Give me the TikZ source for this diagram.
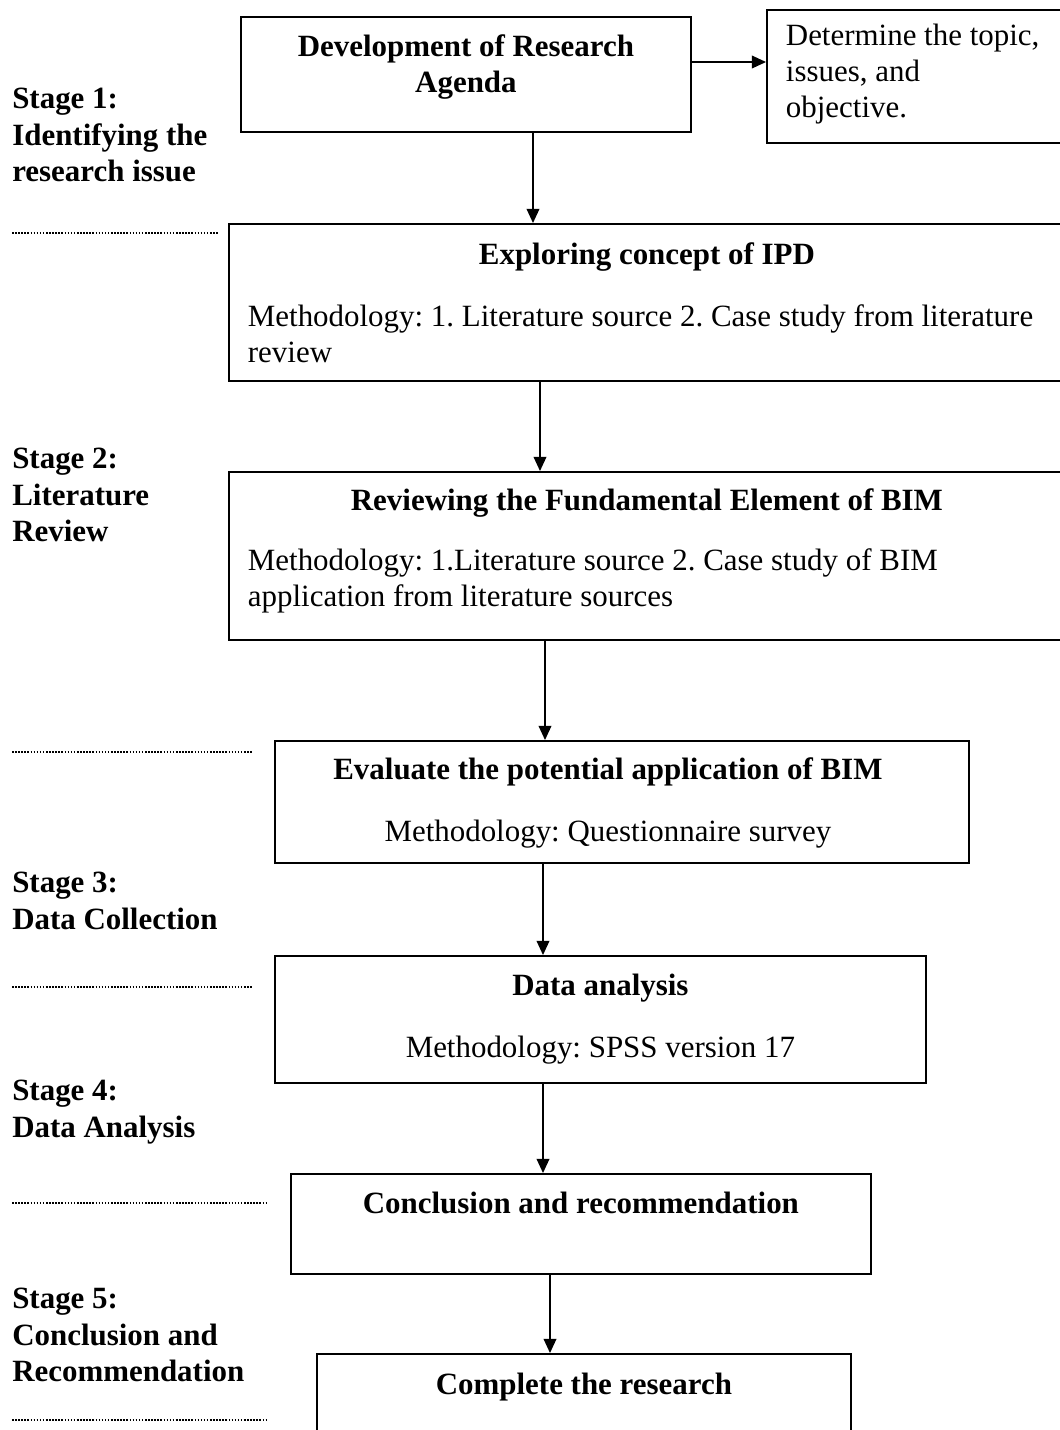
\documentclass[tikz,border=0pt]{standalone}
\usepackage{fontspec}
\setmainfont{Liberation Serif}
\usetikzlibrary{arrows.meta,positioning}

\newlength\pxu
\setlength\pxu{0.025cm}
% fixed-size text block: width, height, top padding, text
\newcommand{\boxtext}[4]{\parbox[c][#2\pxu][t]{#1\pxu}{\frenchspacing\vspace*{#3\pxu}#4}}

\tikzset{
  box/.style={draw, line width=1.3pt, inner xsep=0.475cm, inner ysep=0pt,
    anchor=north west, font=\fontsize{22}{25.5}\selectfont},
  stagelabel/.style={anchor=north west, inner sep=0pt, align=left,
    font=\fontsize{22}{26}\selectfont\bfseries},
  flow/.style={line width=1pt, -{Triangle[length=10pt,width=9pt]}},
  sep/.style={line width=1.3pt, dash pattern=on 1.1pt off 1.1pt}
}

\begin{document}
\begin{tikzpicture}[x=0.025cm, y=-0.025cm]
  \clip (0,0) rectangle (1060,1430);

  % boxes of the flow
  \node[box] (agenda) at (240,16)
    {\boxtext{412}{115}{18}{\centering\bfseries Development of Research\\Agenda}};
  \node[box] (topic) at (766,9)
    {\boxtext{260}{133}{14}{\raggedright Determine the topic,\\issues, and\\objective.}};
  \node[box] (ipd) at (228,223)
    {\boxtext{798}{157}{19}{{\centering\bfseries Exploring concept of IPD\par}
      \vspace{26\pxu}\raggedright Methodology: 1. Literature source 2. Case study from literature\\review}};
  \node[box] (bim) at (228,471)
    {\boxtext{798}{168}{17}{{\centering\bfseries Reviewing the Fundamental Element of BIM\par}
      \vspace{24\pxu}\raggedright Methodology: 1.Literature source 2. Case study of BIM\\application from literature sources}};
  \node[box] (survey) at (274,740)
    {\boxtext{656}{122}{17}{\centering\rightskip=28\pxu plus 1fil
      {\bfseries Evaluate the potential application of BIM\par}
      \vspace{26\pxu}Methodology: Questionnaire survey}};
  \node[box] (spss) at (274,955)
    {\boxtext{613}{127}{18}{\centering{\bfseries Data analysis\par}
      \vspace{26\pxu}Methodology: SPSS version 17}};
  \node[box] (concl) at (290,1173)
    {\boxtext{542}{100}{18}{\centering\bfseries Conclusion and recommendation}};
  \node[box] (done) at (316,1353)
    {\boxtext{496}{120}{19}{\centering\bfseries Complete the research}};

  % stage names on the left
  \node[stagelabel] (s1) at (12,88) {Stage 1:\\Identifying the\\research issue};
  \node[stagelabel] (s2) at (12,448) {Stage 2:\\Literature\\Review};
  \node[stagelabel] (s3) at (12,872) {Stage 3:\\Data Collection};
  \node[stagelabel] (s4) at (12,1080) {Stage 4:\\Data Analysis};
  \node[stagelabel] (s5) at (12,1288) {Stage 5:\\Conclusion and\\Recommendation};

  % dotted separators
  \draw[sep] (12,233) -- (218,233);
  \draw[sep] (12,752) -- (252,752);
  \draw[sep] (12,987) -- (252,987);
  \draw[sep] (12,1203) -- (268,1203);
  \draw[sep] (12,1420) -- (268,1420);

  % arrows
  \coordinate (c1) at (533,0);
  \coordinate (c2) at (540,0);
  \coordinate (c3) at (545,0);
  \coordinate (c4) at (543,0);
  \coordinate (c5) at (550,0);
  \draw[flow] (agenda.east |- 0,62) -- (topic.west |- 0,62);
  \draw[flow] (c1 |- agenda.south) -- (c1 |- ipd.north);
  \draw[flow] (c2 |- ipd.south) -- (c2 |- bim.north);
  \draw[flow] (c3 |- bim.south) -- (c3 |- survey.north);
  \draw[flow] (c4 |- survey.south) -- (c4 |- spss.north);
  \draw[flow] (c4 |- spss.south) -- (c4 |- concl.north);
  \draw[flow] (c5 |- concl.south) -- (c5 |- done.north);
\end{tikzpicture}
\end{document}
